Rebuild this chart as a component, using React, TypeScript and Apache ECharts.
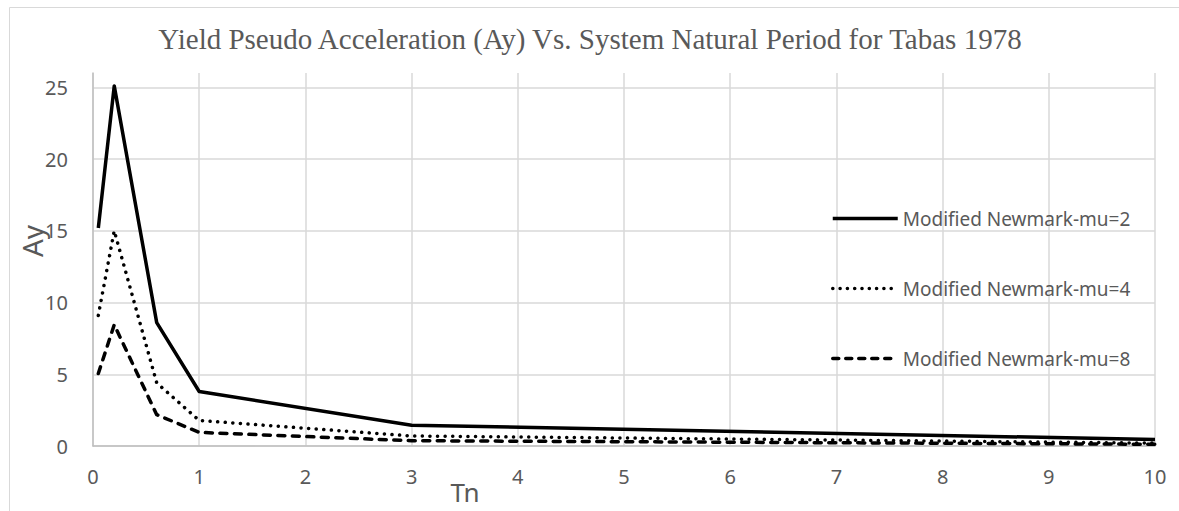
import React, { useEffect, useRef } from "react";
import * as echarts from "echarts";

const titleText = "Yield Pseudo Acceleration (Ay) Vs. System Natural Period for Tabas 1978";
const xName = "Tn";
const yName = "Ay";
const tn = [0.05, 0.2, 0.6, 1, 3, 10];
const seriesNames = ["Modified Newmark-mu=2", "Modified Newmark-mu=4", "Modified Newmark-mu=8"];
const mu2 = [15.2, 25.1, 8.6, 3.8, 1.45, 0.45];
const mu4 = [9.1, 15.0, 4.4, 1.78, 0.7, 0.2];
const mu8 = [5.05, 8.45, 2.18, 0.95, 0.37, 0.12];

const TEXT = "#595959";
const FONT = "Noto Sans";

export default function App() {
  const ref = useRef<HTMLDivElement>(null);
  useEffect(() => {
    if (!ref.current) return;
    const chart = echarts.init(ref.current, null, { renderer: "svg" });
    const pairs = (ys: number[]) => tn.map((x, i) => [x, ys[i]]);
    const lineTypes: any[] = [
      { type: "solid", cap: "butt" },
      { type: [0.1, 7.5], cap: "round" },
      { type: [7, 7.5], cap: "round" },
    ];
    const legendTypes: any[] = [
      { type: "solid", cap: "butt" },
      { type: [0.1, 7.2], cap: "round" },
      { type: [6, 7], cap: "round" },
    ];
    const datasets = [mu2, mu4, mu8];
    chart.setOption({
      animation: false,
      backgroundColor: "#ffffff",
      title: {
        text: titleText,
        left: 585,
        textAlign: "center",
        top: 19,
        textStyle: { fontFamily: "Liberation Serif", fontSize: 29, fontWeight: "normal", color: TEXT },
      },
      legend: {
        orient: "vertical",
        left: 826,
        top: 204,
        itemWidth: 65,
        itemHeight: 14,
        itemGap: 51,
        itemStyle: { opacity: 0 },
        textStyle: { fontFamily: FONT, fontSize: 19, color: TEXT },
        data: seriesNames.map((n, i) => ({
          name: n,
          itemStyle: { opacity: 0 },
          lineStyle: { color: "#000000", width: 3.5, type: legendTypes[i].type, cap: legendTypes[i].cap },
        })),
      },
      grid: { left: 93, right: 24, top: 73, bottom: 65, outerBoundsMode: "none" },
      xAxis: {
        type: "value",
        min: 0,
        max: 10,
        interval: 1,
        axisLine: { show: true, lineStyle: { color: "#bfbfbf", width: 1.5 } },
        axisTick: { show: false },
        splitLine: { show: true, lineStyle: { color: "#d9d9d9", width: 1.5 } },
        axisLabel: { fontFamily: FONT, fontSize: 20, color: TEXT, margin: 20 },
      },
      yAxis: {
        type: "value",
        min: 0,
        max: 26,
        interval: 5,
        axisLine: { show: true, lineStyle: { color: "#bfbfbf", width: 1.5 } },
        axisTick: { show: false },
        splitLine: { show: true, showMaxLine: false, lineStyle: { color: "#d9d9d9", width: 1.5 } },
        axisLabel: { fontFamily: FONT, fontSize: 20, color: TEXT, margin: 25, showMaxLabel: false },
      },
      graphic: [
        {
          type: "rect",
          left: 7,
          top: 5,
          shape: { width: 1200, height: 540 },
          style: { fill: "none", stroke: "#d9d9d9", lineWidth: 1 },
          silent: true,
          z: -1,
        },
        {
          type: "text",
          x: 465,
          y: 492,
          style: { text: xName, fontFamily: FONT, fontSize: 26, fill: TEXT, align: "center", verticalAlign: "middle" },
        },
        {
          type: "text",
          x: 32,
          y: 241,
          rotation: Math.PI / 2,
          style: { text: yName, fontFamily: FONT, fontSize: 28, fill: TEXT, align: "center", verticalAlign: "middle" },
        },
      ],
      series: datasets.map((ys, i) => ({
        name: seriesNames[i],
        type: "line",
        data: pairs(ys),
        symbol: "none",
        color: "#000000",
        lineStyle: { color: "#000000", width: 3.5, type: lineTypes[i].type, cap: lineTypes[i].cap, join: "round" },
      })),
    });
    return () => chart.dispose();
  }, []);
  return (
    <div
      ref={ref}
      style={{ position: "absolute", left: 0, top: 0, width: 1179, height: 511, background: "#fff" }}
    />
  );
}
